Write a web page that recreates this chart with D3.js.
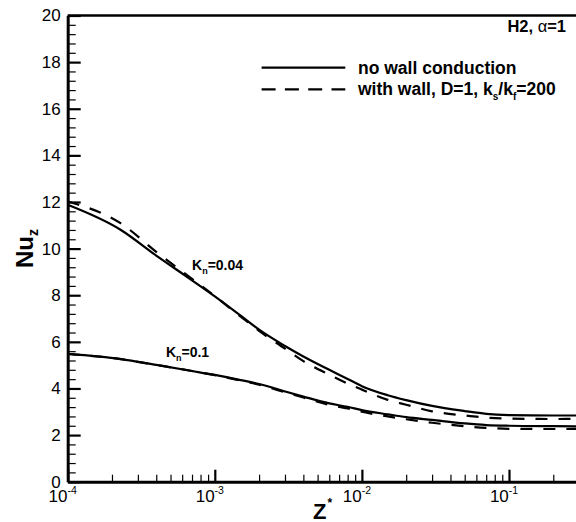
<!DOCTYPE html>
<html>
<head>
<meta charset="utf-8">
<script src="https://cdn.jsdelivr.net/npm/d3@7"></script>
<style>
body { margin: 0; background: #fff; }
svg { display: block; font-family: "Liberation Sans", Arial, Helvetica, sans-serif; }
</style>
</head>
<body>
<svg id="chart" width="576" height="522"></svg>
<script>
// Nu_z vs Z*, H2 boundary, alpha=1

var zStar = [1e-4, 2.3e-4, 4e-4, 7e-4, 1e-3, 1.5e-3, 2e-3, 3e-3, 4e-3, 6e-3, 8e-3,
             1e-2, 1.5e-2, 2e-2, 3e-2, 5e-2, 7e-2, 0.1, 0.2, 0.5, 1];

// Kn = 0.04
var nuKn004     = [11.88, 10.80, 9.70, 8.64, 7.95, 7.12, 6.52, 5.82, 5.37, 4.80, 4.41,
                   4.10, 3.71, 3.50, 3.25, 3.03, 2.91, 2.86, 2.84, 2.84, 2.84];
var nuKn004Wall = [12.02, 11.08, 9.86, 8.70, 7.96, 7.08, 6.47, 5.71, 5.17, 4.59, 4.21,
                   3.95, 3.51, 3.30, 3.02, 2.84, 2.75, 2.71, 2.69, 2.70, 2.70];

// Kn = 0.1
var nuKn01      = [5.48, 5.26, 5.01, 4.75, 4.58, 4.36, 4.19, 3.87, 3.65, 3.36, 3.21,
                   3.07, 2.89, 2.77, 2.65, 2.50, 2.43, 2.40, 2.38, 2.37, 2.37];
var nuKn01Wall  = [5.48, 5.26, 5.01, 4.75, 4.57, 4.34, 4.16, 3.84, 3.61, 3.30, 3.14,
                   3.00, 2.80, 2.68, 2.53, 2.38, 2.31, 2.27, 2.26, 2.27, 2.27];

// 10^0 sits past the right edge of the picture
var xTickExps = [-4, -3, -2, -1];
var yTicks = [0, 2, 4, 6, 8, 10, 12, 14, 16, 18, 20];

var legendLabels = ["no wall conduction", "with wall, D=1, k", "/k", "=200"];
var knLabels = [
  { kn: "0.04", z: 7e-4, nu: 9.08 },
  { kn: "0.1", z: 4.65e-4, nu: 5.35 }
];

var svg = d3.select("#chart");

var plotLeft = 67.7, plotTop = 15.5, plotBottom = 481.7, decade = 147.1;

var x = d3.scaleLog().domain([1e-4, 1]).range([plotLeft, plotLeft + 4 * decade]);
var y = d3.scaleLinear().domain([0, 20]).range([plotBottom, plotTop]);

svg.append("defs").append("clipPath").attr("id", "plot")
  .append("rect")
  .attr("x", plotLeft).attr("y", plotTop)
  .attr("width", 4 * decade).attr("height", plotBottom - plotTop);

///////////////////////////////////////////////////////////////////////////////
// Axes

// minor ticks first, majors drawn over them
var xMinor = x.ticks().filter(function (d) {
  return Math.abs(Math.log10(d) - Math.round(Math.log10(d))) > 1e-6;
});
svg.append("g")
  .attr("transform", "translate(0," + plotBottom + ")")
  .call(d3.axisBottom(x).tickValues(xMinor).tickSize(-7).tickSizeOuter(0).tickFormat(""))
  .call(function (g) { g.select(".domain").remove(); })
  .selectAll(".tick line").attr("stroke-width", 1.2);

var yMinor = d3.range(0, 20.001, 0.4).filter(function (d) {
  return Math.abs(d / 2 - Math.round(d / 2)) > 1e-6;
});
svg.append("g")
  .attr("transform", "translate(" + plotLeft + ",0)")
  .call(d3.axisLeft(y).tickValues(yMinor).tickSize(-8).tickSizeOuter(0).tickFormat(""))
  .call(function (g) { g.select(".domain").remove(); })
  .selectAll(".tick line").attr("stroke-width", 1.2);

var xAxis = svg.append("g")
  .attr("transform", "translate(0," + plotBottom + ")")
  .call(d3.axisBottom(x)
    .tickValues(xTickExps.map(function (e) { return Math.pow(10, e); }))
    .tickSize(-12).tickSizeOuter(0).tickPadding(8)
    .tickFormat(function () { return "10"; }));

xAxis.selectAll(".tick line").attr("stroke-width", 2.2);
xAxis.selectAll(".tick text")
  .attr("x", -5.5)
  .attr("font-size", 17)
  .attr("font-family", "Liberation Sans, Arial, sans-serif")
  .append("tspan")
  .attr("dy", -8)
  .attr("font-size", 10.5)
  .text(function (d) { return Math.round(Math.log10(d)); });

var yAxis = svg.append("g")
  .attr("transform", "translate(" + plotLeft + ",0)")
  .call(d3.axisLeft(y).tickValues(yTicks).tickSize(-13).tickSizeOuter(0).tickPadding(7));

yAxis.selectAll(".tick line").attr("stroke-width", 2.2);
yAxis.selectAll(".tick text")
  .attr("font-size", 17)
  .attr("font-family", "Liberation Sans, Arial, sans-serif");

xAxis.select(".domain").attr("stroke-width", 3);
yAxis.select(".domain").attr("stroke-width", 3);

// top frame
svg.append("line")
  .attr("x1", plotLeft).attr("x2", x(1))
  .attr("y1", plotTop).attr("y2", plotTop)
  .attr("stroke", "#000").attr("stroke-width", 2.5);

// axis titles
svg.append("text")
  .attr("transform", "translate(33," + (plotTop + plotBottom) / 2 + ") rotate(-90)")
  .attr("text-anchor", "middle")
  .attr("font-size", 24).attr("font-weight", "bold")
  .text("Nu")
  .append("tspan").attr("dy", 5).attr("font-size", 14).text("z");

svg.append("text")
  .attr("x", 313).attr("y", 519)
  .attr("font-size", 22).attr("font-weight", "bold")
  .text("Z")
  .append("tspan").attr("dy", -12).attr("dx", 1).attr("font-size", 12).text("*");

///////////////////////////////////////////////////////////////////////////////
// Curves

var line = d3.line()
  .x(function (d) { return x(d[0]); })
  .y(function (d) { return y(d[1]); })
  .curve(d3.curveMonotoneX);

var series = [
  { values: nuKn004, dash: null },
  { values: nuKn01, dash: null },
  { values: nuKn004Wall, dash: "12,11" },
  { values: nuKn01Wall, dash: "12,11" }
];

svg.append("g").attr("clip-path", "url(#plot)")
  .selectAll("path")
  .data(series)
  .enter().append("path")
  .attr("d", function (s) { return line(d3.zip(zStar, s.values)); })
  .attr("fill", "none")
  .attr("stroke", "#000")
  .attr("stroke-width", 2.2)
  .attr("stroke-dasharray", function (s) { return s.dash; });

// Kn labels
knLabels.forEach(function (k) {
  var t = svg.append("text")
    .attr("x", x(k.z)).attr("y", y(k.nu))
    .attr("font-size", 14).attr("font-weight", "bold")
    .text("K");
  t.append("tspan").attr("dy", 4).attr("font-size", 9).text("n");
  t.append("tspan").attr("dy", -4).text("=" + k.kn);
});

///////////////////////////////////////////////////////////////////////////////
// Legend and case label

var h2 = svg.append("text")
  .attr("x", 566).attr("y", 32)
  .attr("text-anchor", "end")
  .attr("font-size", 16.5).attr("font-weight", "bold")
  .text("H2, ");
h2.append("tspan").attr("font-weight", "normal").text("\u03b1");
h2.append("tspan").text("=1");

svg.append("line")
  .attr("x1", 261.6).attr("x2", 345.3).attr("y1", 67.7).attr("y2", 67.7)
  .attr("stroke", "#000").attr("stroke-width", 2.3);
svg.append("line")
  .attr("x1", 261.6).attr("x2", 345.3).attr("y1", 89.3).attr("y2", 89.3)
  .attr("stroke", "#000").attr("stroke-width", 2.3)
  .attr("stroke-dasharray", "14,9.3");

svg.append("text")
  .attr("x", 358).attr("y", 73.5)
  .attr("font-size", 17.5).attr("font-weight", "bold")
  .text(legendLabels[0]);

var l2 = svg.append("text")
  .attr("x", 358).attr("y", 95)
  .attr("font-size", 17.5).attr("font-weight", "bold")
  .text(legendLabels[1]);
l2.append("tspan").attr("dy", 5).attr("font-size", 10).text("s");
l2.append("tspan").attr("dy", -5).text(legendLabels[2]);
l2.append("tspan").attr("dy", 5).attr("font-size", 10).text("f");
l2.append("tspan").attr("dy", -5).text(legendLabels[3]);
</script>
</body>
</html>
